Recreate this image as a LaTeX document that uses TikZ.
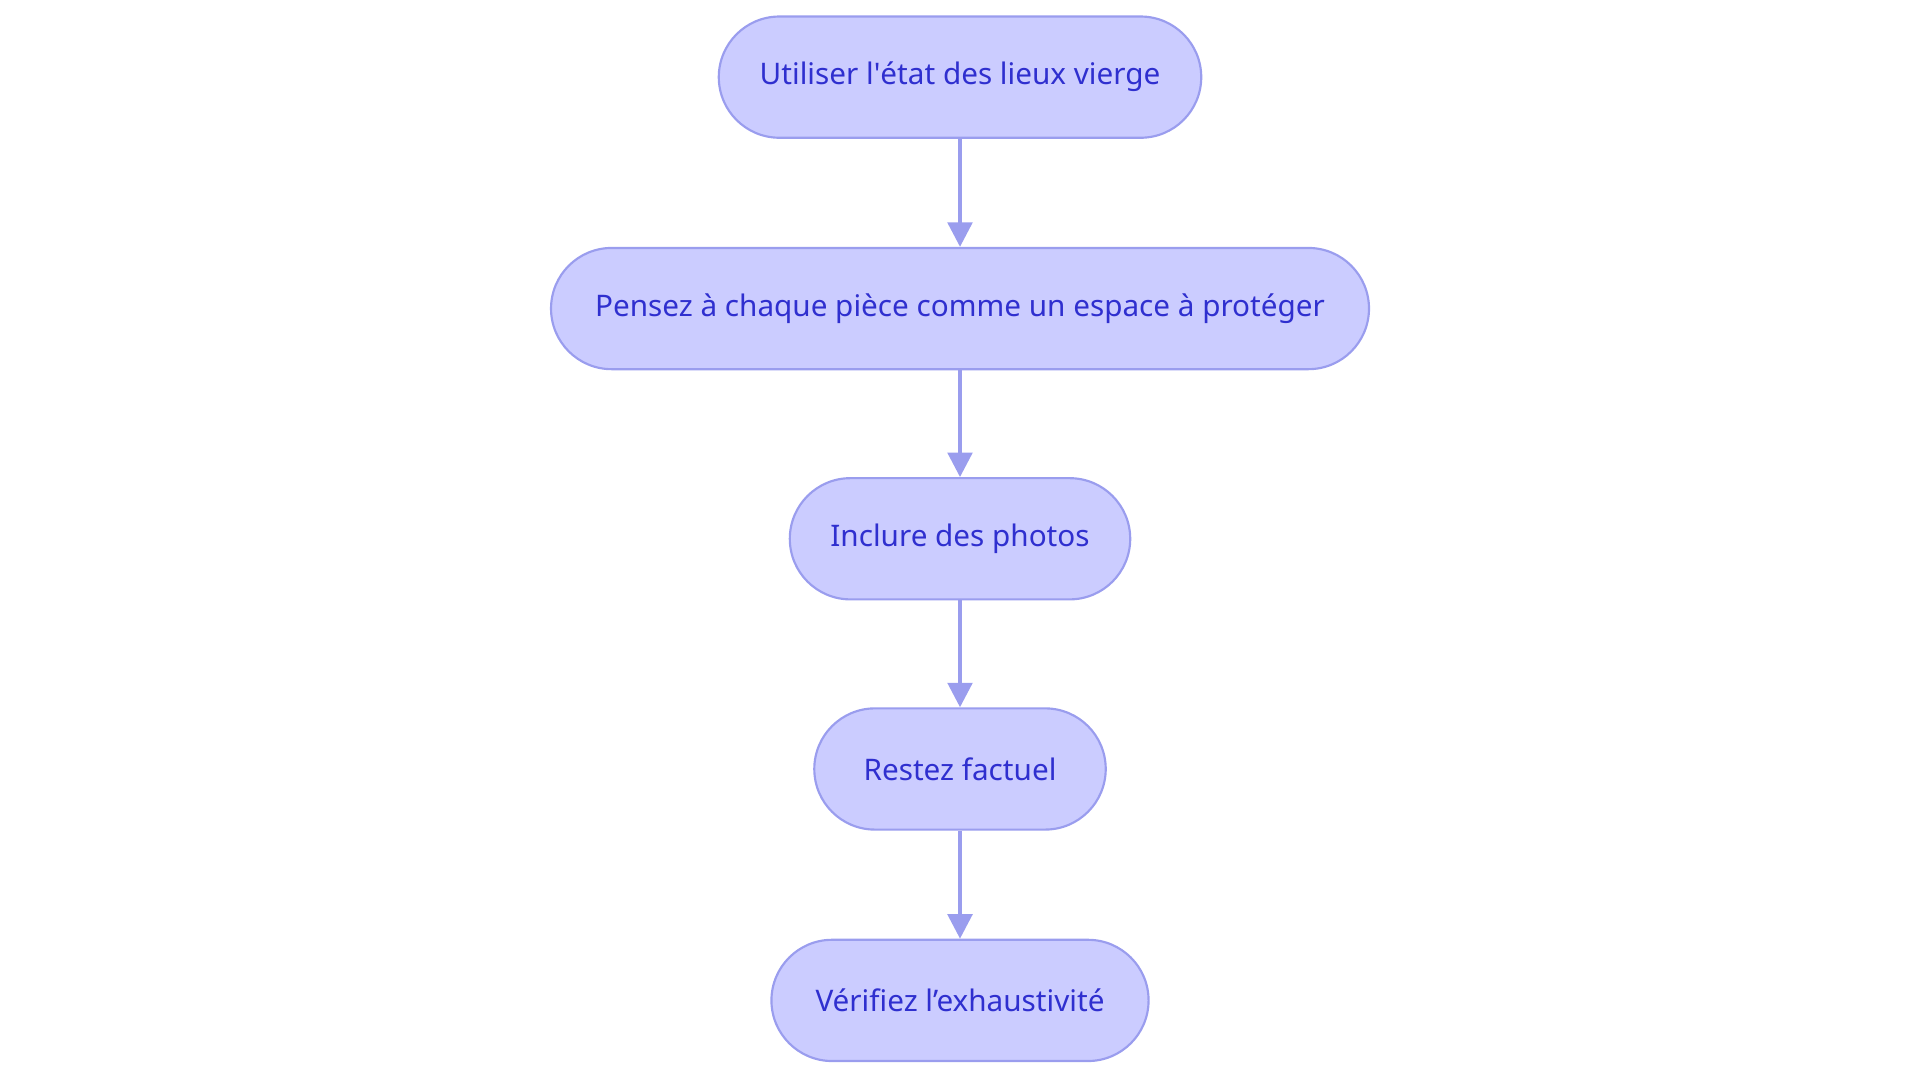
\documentclass[tikz,border=0pt]{standalone}
\usepackage{fontspec}
\setmainfont{Noto Sans}
\usetikzlibrary{arrows.meta}
\definecolor{boxfill}{HTML}{CBCCFF}
\definecolor{boxline}{HTML}{9A9DEE}
\definecolor{boxtext}{HTML}{2F2FCF}
\begin{document}
\begin{tikzpicture}
			[block/.style ={rectangle, rounded corners=0.99cm, draw=boxline, fill=boxfill, line width=1pt, minimum height=1.98cm, text=boxtext, font=\fontsize{13.8}{16}\selectfont, align=center},
			link/.style ={draw=boxline, line width=1.8pt, -{Triangle[width=0.4cm,length=0.4cm]}}]
			\useasboundingbox (0,0) rectangle (31.36,-17.68);
			\node[block, minimum width=7.88cm] (s1) at (15.68,-1.26) {Utiliser l\textquotesingle état des lieux vierge};
			\node[block, minimum width=13.36cm] (s2) at (15.68,-5.04) {Pensez à chaque pièce comme un espace à protéger};
			\node[block, minimum width=5.56cm] (s3) at (15.68,-8.80) {Inclure des photos};
			\node[block, minimum width=4.76cm] (s4) at (15.68,-12.56) {Restez factuel};
			\node[block, minimum width=6.16cm] (s5) at (15.68,-16.34) {Vérifiez l’exhaustivité};
			\draw[link] (s1) -- (s2);
			\draw[link] (s2) -- (s3);
			\draw[link] (s3) -- (s4);
			\draw[link] (s4) -- (s5);
		\end{tikzpicture}
\end{document}
